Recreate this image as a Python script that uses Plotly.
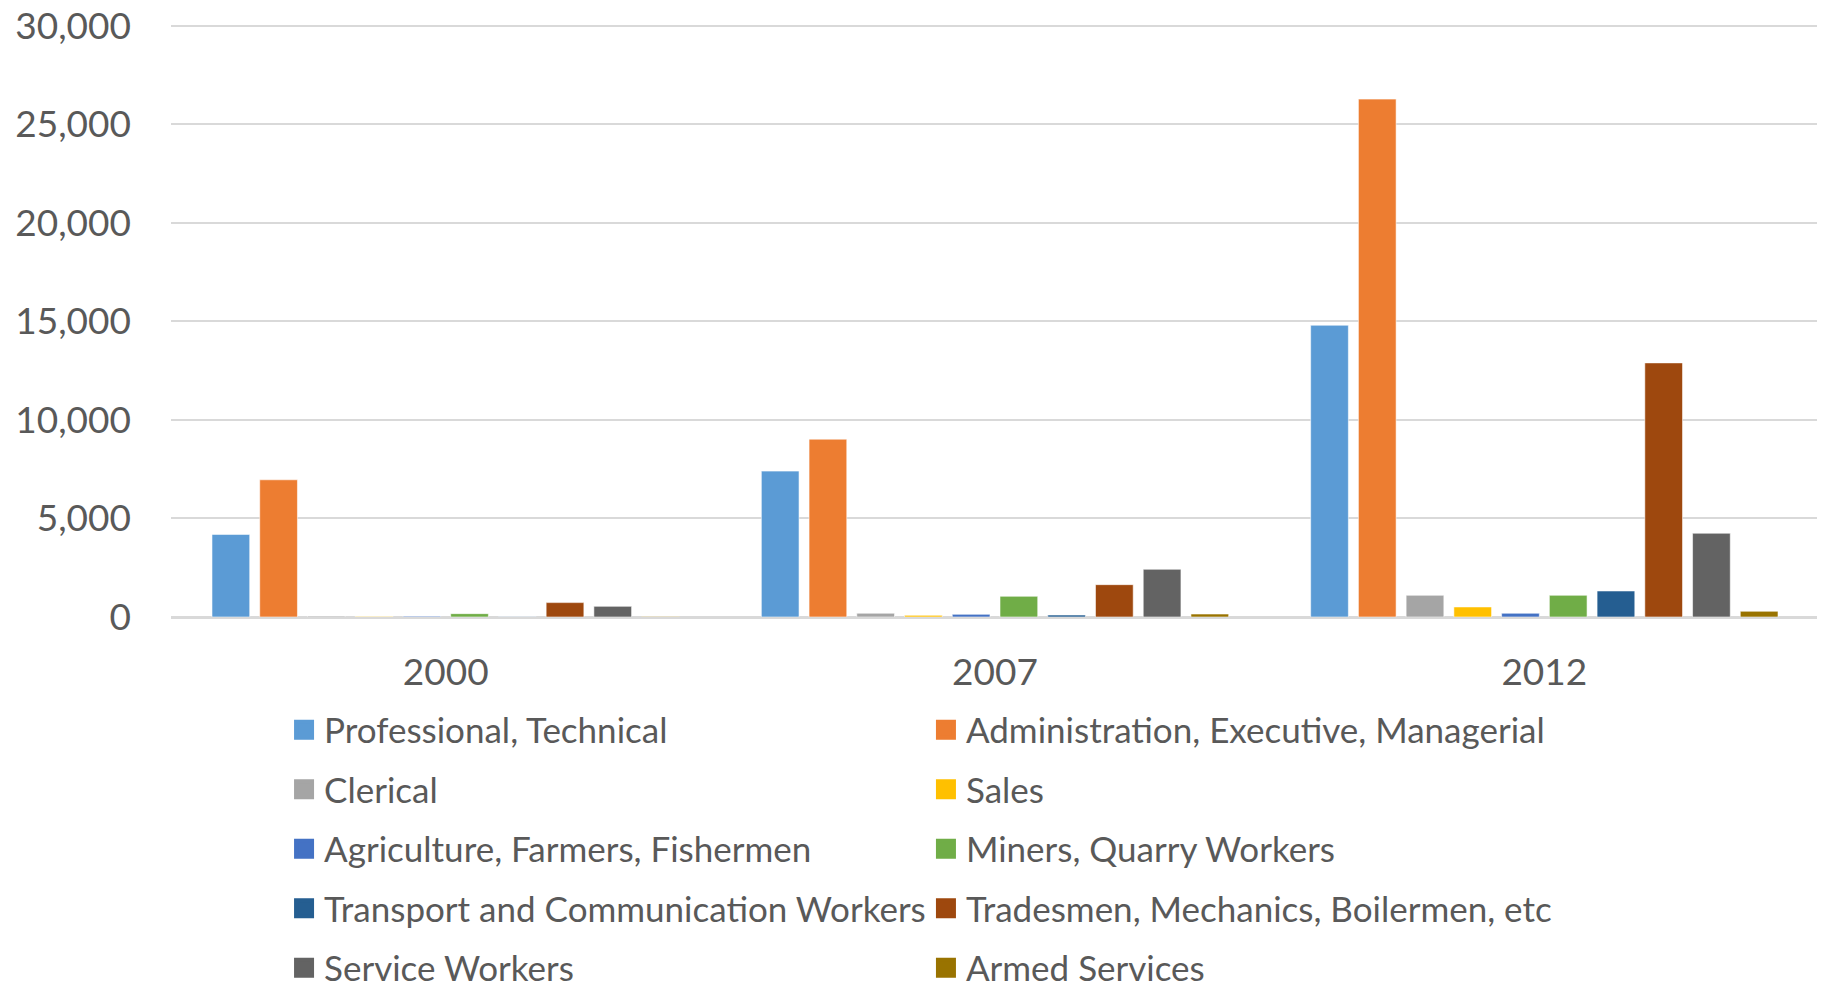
import plotly.graph_objects as go

years = ["2000", "2007", "2012"]

series_names = [
    "Professional, Technical",
    "Administration, Executive, Managerial",
    "Clerical",
    "Sales",
    "Agriculture, Farmers, Fishermen",
    "Miners, Quarry Workers",
    "Transport and Communication Workers",
    "Tradesmen, Mechanics, Boilermen, etc",
    "Service Workers",
    "Armed Services",
]

professional = [4190, 7400, 14800]
administration = [6960, 9020, 26270]
clerical = [45, 190, 1100]
sales = [30, 85, 510]
agriculture = [40, 135, 190]
miners = [170, 1050, 1100]
transport = [15, 100, 1320]
tradesmen = [730, 1640, 12890]
service = [540, 2420, 4250]
armed = [20, 150, 290]

series_values = [professional, administration, clerical, sales, agriculture,
                 miners, transport, tradesmen, service, armed]

colors = ["#5B9BD5", "#ED7D31", "#A5A5A5", "#FFC000", "#4472C4",
          "#70AD47", "#255E91", "#9E480E", "#636363", "#997300"]

y_ticks = [0, 5000, 10000, 15000, 20000, 25000, 30000]

FONT = "Lato, 'Open Sans', sans-serif"
TXT = "#595959"

fig = go.Figure()
for i, (name, vals, col) in enumerate(zip(series_names, series_values, colors)):
    fig.add_trace(go.Bar(
        name=name, x=years, y=vals,
        marker=dict(color=col, line=dict(color="rgba(255,255,255,0.7)", width=0.8)),
        showlegend=False,
    ))
# legend entries (square swatches like the original)
for i, (name, col) in enumerate(zip(series_names, colors)):
    fig.add_trace(go.Scatter(
        name=name, x=[None], y=[None], mode="markers",
        marker=dict(symbol="square", size=16, color=col, line=dict(color=col, width=4)),
        legend="legend" if i % 2 == 0 else "legend2",
        legendgroup=f"g{i}", showlegend=True, hoverinfo="skip",
    ))

legend_common = dict(
    font=dict(family=FONT, size=35, color=TXT),
    bgcolor="rgba(0,0,0,0)",
    orientation="v",
    yanchor="top",
    xanchor="left",
    tracegroupgap=11,
    itemclick=False,
    itemdoubleclick=False,
)

fig.update_layout(
    width=1825, height=992,
    margin=dict(l=163, r=14, t=16, b=383, autoexpand=False),
    paper_bgcolor="white", plot_bgcolor="white",
    barmode="group", bargap=0.131, bargroupgap=0.21,
    font=dict(family=FONT, color=TXT),
    showlegend=True,
    legend=dict(x=0.0686, y=-0.1406, **legend_common),
    legend2=dict(x=0.4581, y=-0.1406, **legend_common),
    xaxis=dict(
        tickfont=dict(family=FONT, size=37, color=TXT),
        showline=True, linecolor="#D9D9D9", linewidth=1.5,
        ticks="", ticklabelstandoff=22, automargin=False,
    ),
    yaxis=dict(
        range=[0, 30080], tickvals=y_ticks, tickformat=",",
        tickfont=dict(family=FONT, size=37, color=TXT),
        showgrid=True, gridcolor="#D9D9D9", gridwidth=1.5,
        zeroline=True, zerolinecolor="#D9D9D9", zerolinewidth=1.5,
        showline=False, ticks="", ticklabelstandoff=39, automargin=False,
        ticklabeloverflow="allow",
    ),
)

fig.write_html("out.html")
